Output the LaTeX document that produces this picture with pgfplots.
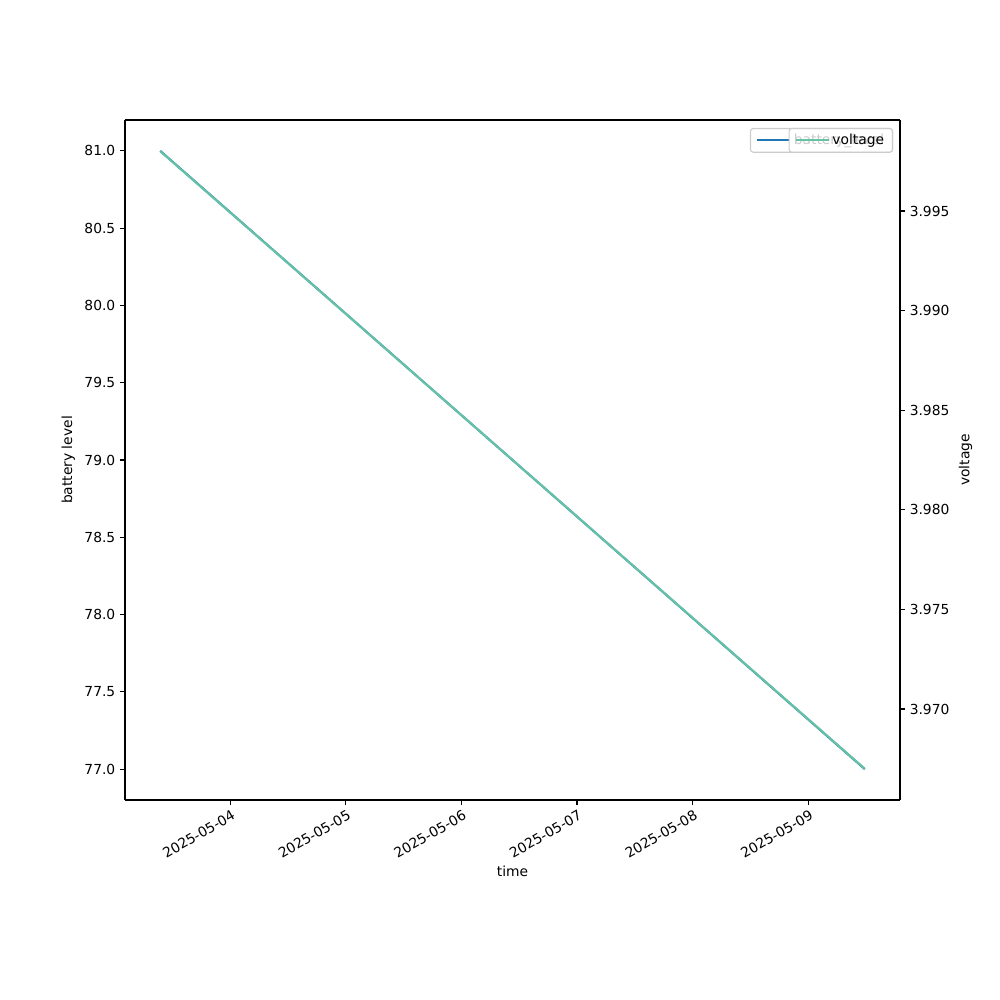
\documentclass[border=0pt]{standalone}
\usepackage{pgfplots}
\pgfplotsset{compat=1.18}
\usepackage{fontspec}
\setmainfont{DejaVu Sans}
\definecolor{mplblue}{HTML}{1F77B4}
\definecolor{setteal}{HTML}{66C2A5}
\definecolor{legedge}{HTML}{CCCCCC}

\pgfplotsset{
  common/.style={
    at={(1.25in,2in)}, anchor=south west,
    scale only axis, width=7.75in, height=6.8in,
    xmin=-0.91, xmax=5.795,
    axis line style={line width=0.8pt},
    tick style={line width=0.8pt, black},
    major tick length=3.5pt,
    tick align=outside,
    /pgf/number format/assume math mode=true,
    tick label style={font=\fontsize{10}{12}\selectfont},
    label style={font=\fontsize{10}{12}\selectfont},
    legend cell align=left,
    legend image code/.code={\draw[#1] (0in,0in) -- (0.285in,0in); \path (0.285in,0in) -- (0.33in,0in);},
    legend style={
      at={(1,1)}, anchor=north east, xshift=-0.07in, yshift=-0.08in,
      draw=legedge, rounded corners=2pt, line width=0.8pt,
      fill=white, fill opacity=0.8, draw opacity=1, text opacity=1,
      font=\fontsize{10}{12}\selectfont,
      inner xsep=4pt, inner ysep=2pt,
    },
  },
}

\begin{document}
\begin{tikzpicture}
\path (0,0) rectangle (10in,10in);

\begin{axis}[
  common,
  ymin=76.8, ymax=81.2,
  ytick={77,77.5,...,81},
  yticklabel style={/pgf/number format/.cd, fixed, fixed zerofill, precision=1},
  xtick={0,1,2,3,4,5},
  xticklabels={2025-05-04,2025-05-05,2025-05-06,2025-05-07,2025-05-08,2025-05-09},
  xticklabel style={rotate=30, anchor=north east, inner sep=1pt, yshift=-2pt},
  xlabel={time},
  ylabel={battery level},
  axis y line*=left,
  axis x line*=bottom,
]
\addplot[mplblue, line width=1.5pt] coordinates {(-0.605,81.0) (5.49,77.0)};
\addlegendentry{battery\_level}
\end{axis}

\begin{axis}[
  common,
  ymin=3.96543, ymax=3.99957,
  ytick={3.970,3.975,...,3.996},
  yticklabel style={/pgf/number format/.cd, fixed, fixed zerofill, precision=3},
  axis y line*=right,
  axis x line=none,
  ylabel={voltage},
]
\addplot[setteal, line width=1.5pt] coordinates {(-0.605,3.998) (5.49,3.967)};
\addlegendentry{voltage}
\end{axis}

\draw[line width=0.8pt] (1.25in,8.8in) -- (9in,8.8in);
\end{tikzpicture}
\end{document}
